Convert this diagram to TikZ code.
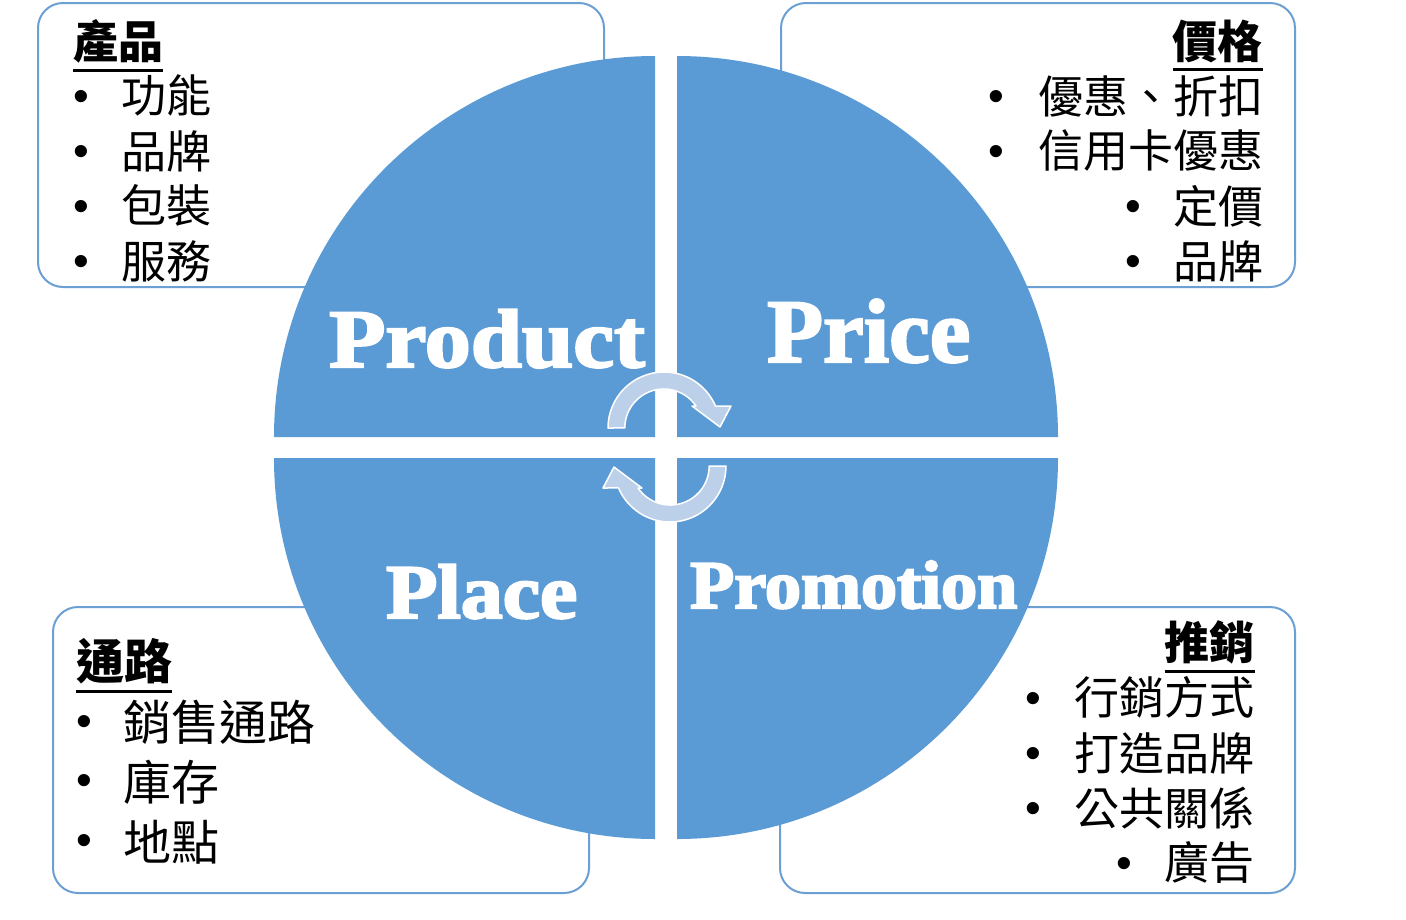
\documentclass[tikz,border=0pt]{standalone}
\usepackage{fontspec}
\setmainfont{Liberation Serif}
\newfontfamily\cjk{Noto Sans CJK TC}
\newfontfamily\bulletfont{Liberation Sans}
\newfontfamily\engfont{Liberation Serif}
\definecolor{quadblue}{HTML}{5B9BD5}
\definecolor{boxline}{HTML}{6C9FD3}
\definecolor{arrowfill}{HTML}{BDD0EA}
\newcommand{\heavytext}[1]{\special{pdf:literal direct 2 Tr 2.2 w 1 1 1 RG}#1\special{pdf:literal direct 0 Tr}}
\begin{document}
\begin{tikzpicture}[x=1pt,y=1pt,
  infobox/.style={draw=boxline, line width=2pt, fill=white, rounded corners=25pt},
  quad/.style={fill=quadblue},
  cyc/.style={fill=arrowfill, draw=white, line width=1.5pt, line join=round},
  item/.style={inner sep=0pt, font=\cjk\fontsize{45}{45}\selectfont},
  bigitem/.style={inner sep=0pt, font=\cjk\fontsize{48}{48}\selectfont},
  head/.style={inner sep=0pt, font=\cjk\bfseries\fontsize{45}{45}\selectfont},
  bighead/.style={inner sep=0pt, font=\cjk\bfseries\fontsize{48}{48}\selectfont},
  bul/.style={inner sep=0pt, yshift=-3pt, font=\bulletfont\fontsize{45}{45}\selectfont},
  uline/.style={line width=3pt},
  word/.style={inner sep=0pt, text=white, anchor=base west, font=\engfont\bfseries}
]
\useasboundingbox (0,0) rectangle (1406,-919);
\fill[white] (0,0) rectangle (1406,-919);

% info boxes
\draw[infobox] (38,-3) rectangle (604,-287);
\draw[infobox] (781,-3) rectangle (1295,-287);
\draw[infobox] (53,-607) rectangle (589,-893);
\draw[infobox] (780,-607) rectangle (1295,-893);

% top-left box
\node[head, anchor=west] (tA) at (73,-41.5) {產品};
\draw[uline] ([yshift=-7pt]tA.south west) -- ([yshift=-7pt]tA.south east);
\node[bul] (bA1) at (81,-98) {•};
\node[bul] (bA2) at (81,-153) {•};
\node[bul] (bA3) at (81,-208) {•};
\node[bul] (bA4) at (81,-263) {•};
\node[item, anchor=west] (iA1) at (121.5,-95.5) {功能};
\node[item, anchor=west] (iA2) at (121.5,-151) {品牌};
\node[item, anchor=west] (iA3) at (121.5,-205) {包裝};
\node[item, anchor=west] (iA4) at (121.5,-261) {服務};

% top-right box
\node[head, anchor=east] (tB) at (1263,-41) {價格};
\draw[uline] ([yshift=-7pt]tB.south west) -- ([yshift=-7pt]tB.south east);
\node[bul] (bB1) at (996,-98) {•};
\node[bul] (bB2) at (996,-153) {•};
\node[bul] (bB3) at (1133,-208) {•};
\node[bul] (bB4) at (1133,-263) {•};
\node[item, anchor=east] (iB1) at (1264,-96) {優惠、折扣};
\node[item, anchor=east] (iB2) at (1264,-151) {信用卡優惠};
\node[item, anchor=east] (iB3) at (1264,-206) {定價};
\node[item, anchor=east] (iB4) at (1264,-261) {品牌};

% bottom-left box
\node[bighead, anchor=west] (tC) at (76,-661.5) {通路};
\draw[uline] ([yshift=-7pt]tC.south west) -- ([yshift=-7pt]tC.south east);
\node[bul] (bC1) at (84,-723) {•};
\node[bul] (bC2) at (84,-782) {•};
\node[bul] (bC3) at (84,-842) {•};
\node[bigitem, anchor=west] (iC1) at (123,-722) {銷售通路};
\node[bigitem, anchor=west] (iC2) at (123,-782) {庫存};
\node[bigitem, anchor=west] (iC3) at (123,-842) {地點};

% bottom-right box
\node[head, anchor=east] (tD) at (1255,-642.5) {推銷};
\draw[uline] ([yshift=-7pt]tD.south west) -- ([yshift=-7pt]tD.south east);
\node[bul] (bD1) at (1033,-700) {•};
\node[bul] (bD2) at (1033,-755) {•};
\node[bul] (bD3) at (1033,-810) {•};
\node[bul] (bD4) at (1124,-865) {•};
\node[item, anchor=east] (iD1) at (1255,-697) {行銷方式};
\node[item, anchor=east] (iD2) at (1255,-753) {打造品牌};
\node[item, anchor=east] (iD3) at (1255,-808) {公共關係};
\node[item, anchor=east] (iD4) at (1255,-863) {廣告};

% quadrants
\fill[quad] (655,-437) -- (274,-437) arc[start angle=180, end angle=90, radius=381] -- cycle;
\fill[quad] (677,-437) -- (677,-56) arc[start angle=90, end angle=0, radius=381] -- cycle;
\fill[quad] (655,-458) -- (274,-458) arc[start angle=180, end angle=270, radius=381] -- cycle;
\fill[quad] (677,-458) -- (1058,-458) arc[start angle=0, end angle=-90, radius=381] -- cycle;

% words
\node[word] (wProd) at (329,-367) {\scalebox{1.11}[1]{\fontsize{83}{83}\selectfont\heavytext{Product}}};
\node[word] (wPrice) at (767,-362) {\scalebox{1.01}[1]{\fontsize{90.6}{90.6}\selectfont\heavytext{Price}}};
\node[word] (wPlace) at (386,-618) {\scalebox{1.09}[1]{\fontsize{77}{77}\selectfont\heavytext{Place}}};
\node[word] (wPromo) at (690,-608) {\scalebox{1.06}[1]{\fontsize{68}{68}\selectfont\heavytext{Promotion}}};

% cycle arrows
\path[cyc] (608,-428) arc[start angle=180, end angle=23.1, radius=56] -- (731,-406) -- (720,-427) -- (692,-406) -- (696,-406) arc[start angle=34.3, end angle=180, radius=39] -- cycle;
\begin{scope}[rotate around={180:(667,-447)}]
\path[cyc] (608,-428) arc[start angle=180, end angle=23.1, radius=56] -- (731,-406) -- (720,-427) -- (692,-406) -- (696,-406) arc[start angle=34.3, end angle=180, radius=39] -- cycle;
\end{scope}
\end{tikzpicture}
\end{document}
